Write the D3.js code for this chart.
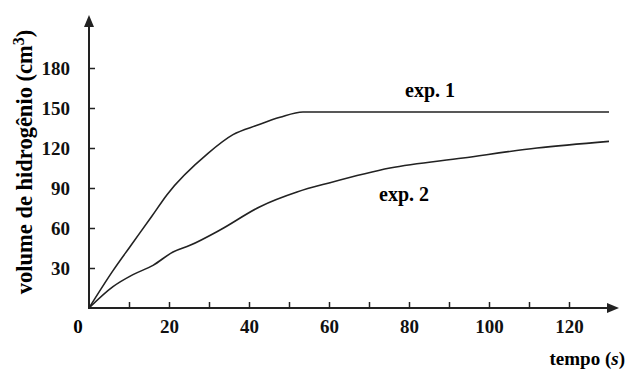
<!DOCTYPE html>
<html>
<head>
<meta charset="utf-8">
<script src="https://cdn.jsdelivr.net/npm/d3@7"></script>
<style>
  body { margin: 0; background: #fff; }
  svg { display: block; font-family: "Liberation Serif", "Times New Roman", serif; font-weight: bold; }
</style>
</head>
<body>
<svg width="627" height="372"></svg>
<script>
// exp. 1 readings
const time1 = [0, 6, 10.25, 15.75, 19.5, 29.75, 36, 42, 47.75, 53.5, 130];
const vol1 = [0, 28, 46, 69, 85, 116, 130, 137, 143, 147, 147];
// exp. 2 readings
const time2 = [0, 6, 11, 16, 21, 25.25, 32.75, 42.75, 52, 60.25, 75.25, 93.5, 112, 130];
const vol2 = [0, 16, 25, 32, 42, 47, 58.5, 76, 87, 94, 105, 112.5, 120, 125];

const xTicks = [10, 20, 30, 40, 50, 60, 70, 80, 90, 100, 110, 120];
const xLabels = [20, 40, 60, 80, 100, 120];
const yTicks = [30, 60, 90, 120, 150, 180];

const svg = d3.select('svg');
const ink = '#222';

let x = d3.scaleLinear().domain([0, 120]).range([89, 569]);
let y = d3.scaleLinear().domain([0, 180]).range([308, 68]);

// axes lines with arrow heads
svg.append('line')
  .attr('x1', x(0)).attr('x2', 612)
  .attr('y1', y(0)).attr('y2', y(0))
  .attr('stroke', ink).attr('stroke-width', 2);
svg.append('path')
  .attr('d', `M619,${y(0)} L607,${y(0) - 5} L607,${y(0) + 5} Z`)
  .attr('fill', ink);

svg.append('line')
  .attr('x1', x(0)).attr('x2', x(0))
  .attr('y1', y(0) + 1).attr('y2', 22)
  .attr('stroke', ink).attr('stroke-width', 2);
svg.append('path')
  .attr('d', `M${x(0)},15 L${x(0) - 5},27 L${x(0) + 5},27 Z`)
  .attr('fill', ink);

// x axis ticks
let xAxis = d3.axisBottom(x)
  .tickValues(xTicks)
  .tickSize(-6)
  .tickSizeOuter(0)
  .tickFormat((d) => (xLabels.includes(d) ? d : ''));
let gx = svg.append('g')
  .attr('transform', `translate(0, ${y(0)})`)
  .call(xAxis);
gx.select('.domain').remove();
gx.selectAll('line').attr('stroke', ink).attr('stroke-width', 1.5);
gx.selectAll('text')
  .attr('y', 12)
  .attr('dy', '0.71em')
  .attr('fill', '#111')
  .style('font-size', '19px')
  .style('font-family', '"Liberation Serif", serif')
  .style('font-weight', 'bold');

// y axis ticks
let yAxis = d3.axisLeft(y)
  .tickValues(yTicks)
  .tickSize(-6)
  .tickSizeOuter(0);
let gy = svg.append('g')
  .attr('transform', `translate(${x(0)}, 0)`)
  .call(yAxis);
gy.select('.domain').remove();
gy.selectAll('line').attr('stroke', ink).attr('stroke-width', 1.5);
gy.selectAll('text')
  .attr('x', -19)
  .attr('dy', '0.36em')
  .attr('fill', '#111')
  .style('font-size', '19px')
  .style('font-family', '"Liberation Serif", serif')
  .style('font-weight', 'bold');

// origin label
svg.append('text')
  .attr('x', 78).attr('y', y(0) + 12)
  .attr('dy', '0.71em')
  .attr('text-anchor', 'middle')
  .style('font-size', '19px')
  .text('0');

// curves
let line = d3.line()
  .x((d) => x(d[0]))
  .y((d) => y(d[1]))
  .curve(d3.curveMonotoneX);

svg.append('path')
  .datum(d3.zip(time1, vol1))
  .attr('d', line)
  .attr('fill', 'none')
  .attr('stroke', ink)
  .attr('stroke-width', 1.6);

svg.append('path')
  .datum(d3.zip(time2, vol2))
  .attr('d', line)
  .attr('fill', 'none')
  .attr('stroke', ink)
  .attr('stroke-width', 1.6);

// series labels
svg.append('text')
  .attr('x', 430).attr('y', 97)
  .attr('text-anchor', 'middle')
  .style('font-size', '20px')
  .text('exp. 1');
svg.append('text')
  .attr('x', 404).attr('y', 201)
  .attr('text-anchor', 'middle')
  .style('font-size', '20px')
  .text('exp. 2');

// axis titles
let tt = svg.append('text')
  .attr('x', 625).attr('y', 365)
  .attr('text-anchor', 'end')
  .style('font-size', '19px');
tt.append('tspan').text('tempo (');
tt.append('tspan').style('font-style', 'italic').text('s');
tt.append('tspan').text(')');

let yt = svg.append('text')
  .attr('transform', 'translate(32, 162) rotate(-90)')
  .attr('text-anchor', 'middle')
  .style('font-size', '22.5px');
yt.append('tspan').text('volume de hidrogênio (cm');
yt.append('tspan').attr('dy', -8).style('font-size', '16px').text('3');
yt.append('tspan').attr('dy', 8).text(')');
</script>
</body>
</html>
